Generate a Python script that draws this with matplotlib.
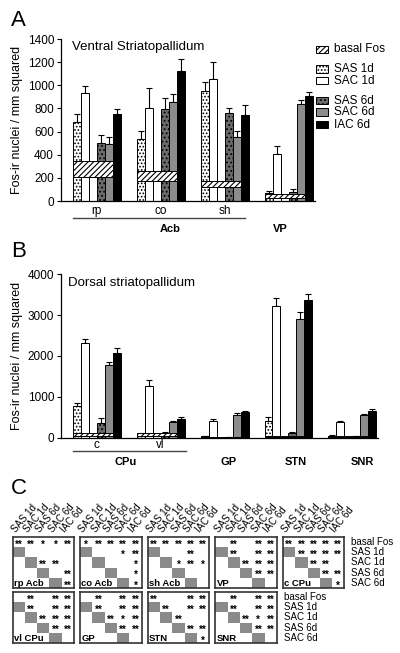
import numpy as np
import matplotlib.pyplot as plt
from matplotlib.patches import Rectangle
from matplotlib.transforms import blended_transform_factory

plt.rcParams['font.family'] = ['Liberation Sans', 'DejaVu Sans']
plt.rcParams['hatch.linewidth'] = 0.8

series = ['SAS 1d', 'SAC 1d', 'SAS 6d', 'SAC 6d', 'IAC 6d']

# panel A: ventral striatopallidum
groups_a = ['rp', 'co', 'sh', 'VP']
sas1d_a = [685, 536, 953, 72]
sac1d_a = [930, 805, 1054, 403]
sas6d_a = [499, 792, 758, 80]
sac6d_a = [493, 858, 550, 838]
iac6d_a = [749, 1125, 745, 907]
sas1d_a_err = [65, 72, 78, 17]
sac1d_a_err = [62, 175, 150, 72]
sas6d_a_err = [72, 96, 48, 20]
sac6d_a_err = [57, 64, 55, 35]
iac6d_a_err = [47, 102, 85, 35]
basal_lo_a = [210, 176, 124, 23]
basal_hi_a = [348, 259, 176, 60]

# panel B: dorsal striatopallidum
groups_b = ['c', 'vl', 'GP', 'STN', 'SNR']
sas1d_b = [776, 90, 30, 409, 50]
sac1d_b = [2320, 1274, 416, 3233, 392]
sas6d_b = [352, 120, 15, 110, 30]
sac6d_b = [1780, 385, 556, 2900, 556]
iac6d_b = [2082, 470, 621, 3372, 653]
sas1d_b_err = [80, 20, 10, 100, 10]
sac1d_b_err = [85, 150, 50, 190, 25]
sas6d_b_err = [120, 30, 5, 20, 10]
sac6d_b_err = [65, 25, 40, 170, 20]
iac6d_b_err = [115, 30, 35, 150, 40]
basal_lo_b = [45, 50, 5, 20, 10]
basal_hi_b = [105, 110, 25, 45, 30]

# panel C: significance matrices (rows: basal Fos, SAS 1d, SAC 1d, SAS 6d, SAC 6d)
row_labels = ['basal Fos', 'SAS 1d', 'SAC 1d', 'SAS 6d', 'SAC 6d']
regions = ['rp Acb', 'co Acb', 'sh Acb', 'VP', 'c CPu', 'vl CPu', 'GP', 'STN', 'SNR']
sig_rp_acb = ['** ** * * **', '. . . . .', '. . ** ** .', '. . . . **', '. . . . **']
sig_co_acb = ['* ** ** ** **', '. . . * **', '. . . . *', '. . . . *', '. . . . *']
sig_sh_acb = ['** ** ** ** **', '. . . ** .', '. . * ** *', '. . . . .', '. . . . .']
sig_vp = ['. ** . ** **', '. ** . ** **', '. . ** ** **', '. . . ** **', '. . . . .']
sig_c_cpu = ['** ** ** ** **', '. ** ** ** **', '. . ** ** .', '. . . ** **', '. . . . *']
sig_vl_cpu = ['. ** . ** **', '. ** . ** **', '. . ** ** **', '. . . ** **', '. . . . .']
sig_gp = ['. ** . ** **', '. ** . ** **', '. . ** * **', '. . . ** **', '. . . . .']
sig_stn = ['** . . ** **', '. ** . ** **', '. . ** . .', '. . . ** **', '. . . . *']
sig_snr = ['. ** . ** **', '. ** . ** **', '. . ** * **', '. . . ** **', '. . . . .']
sig_all = [sig_rp_acb, sig_co_acb, sig_sh_acb, sig_vp, sig_c_cpu,
           sig_vl_cpu, sig_gp, sig_stn, sig_snr]

styles = [dict(facecolor='white', hatch='.....'),
          dict(facecolor='white'),
          dict(facecolor='#6a6a6a', hatch='....'),
          dict(facecolor='#8c8c8c'),
          dict(facecolor='black')]
basal_style = dict(facecolor='white', hatch='//////')
slots = [0, 1, 3, 4, 5]

fig = plt.figure(figsize=(4, 6.53), dpi=100)


def fx(px):
    return px / 400


def fy(py):
    return 1 - py / 653


def draw_bars(ax, means, errs, lo, hi):
    n = len(lo)
    for k in range(5):
        x = np.arange(n) * 8 + slots[k] + 0.5
        ax.bar(x, means[k], width=1, edgecolor='black', linewidth=0.7,
               zorder=2, **styles[k])
        ax.errorbar(x, means[k], yerr=[np.zeros(n), errs[k]], fmt='none',
                    ecolor='black', elinewidth=0.8, capsize=2.2,
                    capthick=0.8, zorder=1)
    lo = np.array(lo)
    hi = np.array(hi)
    ax.bar(np.arange(n) * 8 + 2.5, hi - lo, bottom=lo, width=5,
           edgecolor='black', linewidth=0.7, zorder=3, **basal_style)


def style_axis(ax):
    for s in ['top', 'right']:
        ax.spines[s].set_visible(False)
    ax.spines['left'].set_linewidth(0.9)
    ax.spines['bottom'].set_linewidth(0.9)
    ax.set_xticks([])
    ax.tick_params(axis='y', labelsize=8.5, length=3, width=0.8, pad=2)
    ax.set_ylabel('Fos-ir nuclei / mm squared', fontsize=9, labelpad=3)


# ---- panel A
axA = fig.add_axes([fx(61), fy(201), fx(315 - 61), (201 - 39) / 653])
draw_bars(axA, [sas1d_a, sac1d_a, sas6d_a, sac6d_a, iac6d_a],
          [sas1d_a_err, sac1d_a_err, sas6d_a_err, sac6d_a_err, iac6d_a_err],
          basal_lo_a, basal_hi_a)
axA.set_ylim(0, 1400)
axA.set_yticks(range(0, 1401, 200))
axA.set_xlim(-1.46, 30.3)
style_axis(axA)
trA = blended_transform_factory(axA.transData, fig.transFigure)
axA.text(-0.1, fy(47), 'Ventral Striatopallidum', transform=trA,
         fontsize=9.5, va='center', ha='left')
for i, g in enumerate(groups_a[:3]):
    axA.text(i * 8 + 3, fy(211), g, transform=trA, fontsize=8.5,
             ha='center', va='center')
axA.plot([0, 21.5], [fy(218), fy(218)], transform=trA, color='#444',
         lw=1.0, clip_on=False)
axA.text(12.2, fy(228.5), 'Acb', transform=trA, fontsize=8,
         fontweight='bold', ha='center', va='center')
axA.text(26, fy(228.5), groups_a[3], transform=trA, fontsize=8,
         fontweight='bold', ha='center', va='center')

# legend for panel A
leg_y = [45.7, 65, 76.7, 96.7, 108, 120.7]
leg_lab = ['basal Fos'] + series
leg_sty = [basal_style] + styles
for y, lab, st in zip(leg_y, leg_lab, leg_sty):
    fig.add_artist(Rectangle((fx(316), fy(y + 7.5)), fx(12), 7.5 / 653,
                             transform=fig.transFigure, edgecolor='black',
                             linewidth=0.7, **st))
    fig.text(fx(334), fy(y + 3.8), lab, fontsize=8.5, va='center', ha='left')

# ---- panel B
axB = fig.add_axes([fx(61), fy(437.7), fx(378 - 61), (437.7 - 274.3) / 653])
draw_bars(axB, [sas1d_b, sac1d_b, sas6d_b, sac6d_b, iac6d_b],
          [sas1d_b_err, sac1d_b_err, sas6d_b_err, sac6d_b_err, iac6d_b_err],
          basal_lo_b, basal_hi_b)
axB.set_ylim(0, 4000)
axB.set_yticks(range(0, 4001, 1000))
axB.set_xlim(-1.46, 38.2)
style_axis(axB)
trB = blended_transform_factory(axB.transData, fig.transFigure)
axB.text(-0.6, fy(283.3), 'Dorsal striatopallidum', transform=trB,
         fontsize=9.5, va='center', ha='left')
for i, g in enumerate(groups_b[:2]):
    axB.text(i * 8 + 3, fy(445), g, transform=trB, fontsize=8.5,
             ha='center', va='center')
axB.plot([0, 14.2], [fy(450.7), fy(450.7)], transform=trB, color='#444',
         lw=1.0, clip_on=False)
axB.text(6.6, fy(461.7), 'CPu', transform=trB, fontsize=8,
         fontweight='bold', ha='center', va='center')
for i, g in enumerate(groups_b[2:]):
    axB.text((i + 2) * 8 + 3.5 + 0.4 * i, fy(461.7), g, transform=trB,
             fontsize=8, fontweight='bold', ha='center', va='center')

# ---- panel C
box_w, box_h = 61.5, 51.5
for idx, (name, sig) in enumerate(zip(regions, sig_all)):
    r, c = divmod(idx, 5)
    left = 12.5 + 67.6 * c
    top = 536.7 + 55 * r
    ax = fig.add_axes([fx(left), fy(top + box_h), fx(box_w), box_h / 653])
    ax.set_xlim(0, 5)
    ax.set_ylim(5, 0)
    ax.set_xticks([])
    ax.set_yticks([])
    for s in ax.spines.values():
        s.set_linewidth(1.2)
        s.set_color('#333')
    for i in range(4):
        ax.add_patch(Rectangle((i, i + 1), 1, 1, facecolor='#8a8a8a',
                               edgecolor='none'))
    for ri, row in enumerate(sig):
        for ci, tok in enumerate(row.split()):
            if tok != '.':
                ax.text(ci + 0.5, ri + 0.75, tok, fontsize=7,
                        fontweight='bold', ha='center', va='center')
    ax.text(0.1, 4.55, name, fontsize=6.8, fontweight='bold',
            ha='left', va='center')
    if r == 0:
        for ci, lab in enumerate(series):
            ax.text((ci + 0.4) / 5, 1.05, lab, transform=ax.transAxes,
                    fontsize=7, rotation=50, rotation_mode='anchor',
                    ha='left', va='bottom')
    if c == (4 if r == 0 else 3):
        for ri, lab in enumerate(row_labels):
            ax.text(1.11, 1 - (ri + 0.5) / 5, lab, transform=ax.transAxes,
                    fontsize=7, ha='left', va='center')

# panel letters
fig.text(fx(11), fy(26), 'A', fontsize=16, ha='left', va='baseline')
fig.text(fx(11), fy(257), 'B', fontsize=16, ha='left', va='baseline')
fig.text(fx(11), fy(494), 'C', fontsize=16, ha='left', va='baseline')

fig.savefig('out.png', dpi=100)
